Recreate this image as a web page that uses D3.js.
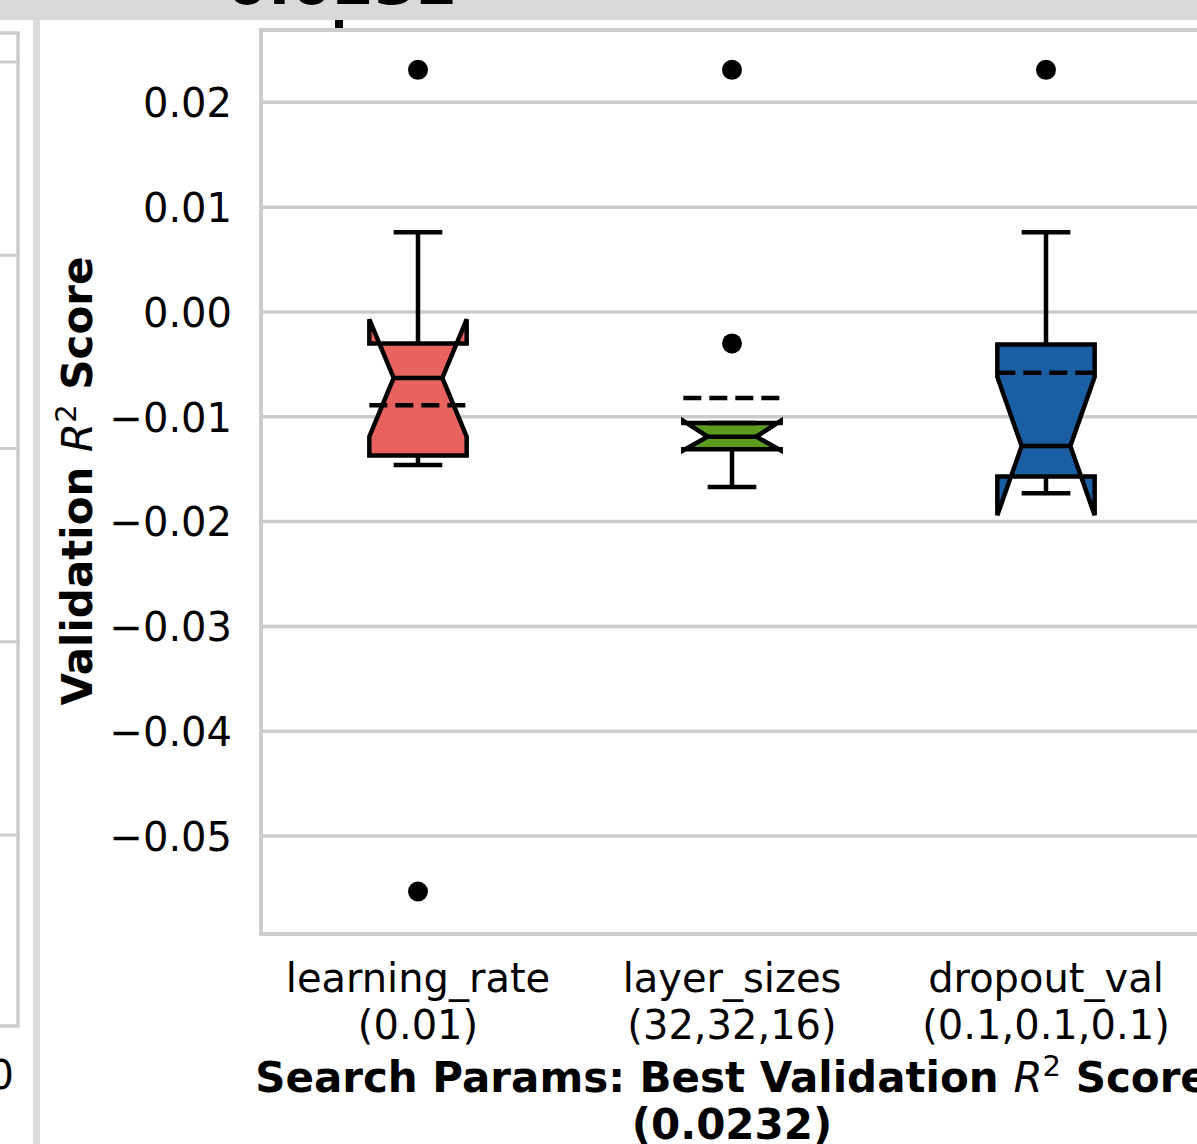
<!DOCTYPE html>
<html><head><meta charset="utf-8">
<script src="https://cdn.jsdelivr.net/npm/d3@7"></script>
<style>body{margin:0;background:#fff}svg{display:block;font-family:"DejaVu Sans",sans-serif}</style>
</head><body><svg id="c" width="1197" height="1144"></svg>
<script>
// ---- data ----
const categories = ["learning_rate", "layer_sizes", "dropout_val"];
const categorySub = ["(0.01)", "(32,32,16)", "(0.1,0.1,0.1)"];
const q1 = [-0.0137, -0.0131, -0.0157];
const median = [-0.0063, -0.0119, -0.0128];
const q3 = [-0.0030, -0.0106, -0.0031];
const whiskerLow = [-0.0146, -0.0167, -0.0173];
const whiskerHigh = [0.0076, -0.0106, 0.0076];
const mean = [-0.0089, -0.0082, -0.0058];
const notchLow = [-0.0119, -0.0132, -0.0194];
const notchHigh = [-0.0007, -0.0104, -0.0062];
const fliers = [[0.0231, -0.0553], [0.0231, -0.0030], [0.0231]];
const boxColors = ["#e8625f", "#5b9a1c", "#1a5fa3"];
const yTicks = [0.02, 0.01, 0.00, -0.01, -0.02, -0.03, -0.04, -0.05];
const leftPanelTicks = [0, 1, 2, 3, 4];
const titleText = "0.0232";

// ---- layout ----
const W = 1197, H = 1144;
const plot = {left: 261, top: 30, right: 1203, bottom: 934};
const svg = d3.select("#c");

const x = d3.scaleBand().domain(categories).range([plot.left, plot.right]).padding(0);
const y = d3.scaleLinear().domain([-0.05935, 0.0269]).range([plot.bottom, plot.top]);
const boxW = x.bandwidth() * 0.31;
const SW = 4.5;

// left partial panel (cut off)
const yl = d3.scaleLinear().domain([0, 4]).range([62, 835]);
const lp = svg.append("g");
lp.selectAll("line.g").data(leftPanelTicks).join("line")
  .attr("x1", 0).attr("x2", 18).attr("y1", d => yl(d)).attr("y2", d => yl(d))
  .attr("stroke", "#cccccc").attr("stroke-width", 3);
lp.append("rect").attr("x", -20).attr("y", 33).attr("width", 38).attr("height", 993)
  .attr("fill", "none").attr("stroke", "#cccccc").attr("stroke-width", 3.5);
lp.append("text").attr("x", 14).attr("y", 1089).attr("text-anchor", "end")
  .attr("font-size", 40).text("0");
svg.append("rect").attr("x", 33).attr("y", 20).attr("width", 7).attr("height", H - 20).attr("fill", "#dcdcdc");

// gridlines
svg.append("g").selectAll("line").data(yTicks).join("line")
  .attr("x1", plot.left).attr("x2", W + 10)
  .attr("y1", d => y(d)).attr("y2", d => y(d))
  .attr("stroke", "#cccccc").attr("stroke-width", 3.5);

// frame
svg.append("rect").attr("x", plot.left).attr("y", plot.top)
  .attr("width", plot.right - plot.left + 20).attr("height", plot.bottom - plot.top)
  .attr("fill", "none").attr("stroke", "#cccccc").attr("stroke-width", 4);

// y axis
const yAxis = svg.append("g").attr("transform", `translate(${plot.left},0)`)
  .call(d3.axisLeft(y).tickValues(yTicks).tickSize(0).tickPadding(29).tickFormat(d3.format(".2f")));
yAxis.select(".domain").remove();
yAxis.selectAll("text").attr("font-size", 40).attr("font-family", "DejaVu Sans").attr("fill", "#000").attr("dy", "0.36em");

// x tick labels
const xl = svg.append("g");
categories.forEach((c, i) => {
  const cx = x(c) + x.bandwidth() / 2;
  xl.append("text").attr("x", cx).attr("y", 992).attr("text-anchor", "middle").attr("font-size", 40).text(c);
  xl.append("text").attr("x", cx).attr("y", 1039).attr("text-anchor", "middle").attr("font-size", 40).text(categorySub[i]);
});

// boxes
const boxes = svg.append("g");
categories.forEach((c, i) => {
  const cx = x(c) + x.bandwidth() / 2;
  const L = cx - boxW / 2, R = cx + boxW / 2;
  const nL = cx - boxW / 4, nR = cx + boxW / 4;
  const pts = [
    [L, q1[i]], [R, q1[i]], [R, notchLow[i]], [nR, median[i]], [R, notchHigh[i]], [R, q3[i]],
    [L, q3[i]], [L, notchHigh[i]], [nL, median[i]], [L, notchLow[i]], [L, q1[i]]
  ];
  const line = d3.line().x(d => d[0]).y(d => y(d[1]));
  boxes.append("path").attr("d", line(pts) + "Z").attr("fill", boxColors[i])
    .attr("stroke", "#000").attr("stroke-width", SW).attr("stroke-linejoin", "miter");
  // whiskers
  const wk = [[q3[i], whiskerHigh[i]], [q1[i], whiskerLow[i]]];
  wk.forEach(([a, b]) => {
    if (a !== b) boxes.append("line").attr("x1", cx).attr("x2", cx).attr("y1", y(a)).attr("y2", y(b))
      .attr("stroke", "#000").attr("stroke-width", SW);
    boxes.append("line").attr("x1", nL).attr("x2", nR).attr("y1", y(b)).attr("y2", y(b))
      .attr("stroke", "#000").attr("stroke-width", SW);
  });
  // median
  boxes.append("line").attr("x1", nL).attr("x2", nR).attr("y1", y(median[i])).attr("y2", y(median[i]))
    .attr("stroke", "#000").attr("stroke-width", SW);
  // mean (dashed)
  boxes.append("line").attr("x1", L).attr("x2", R).attr("y1", y(mean[i])).attr("y2", y(mean[i]))
    .attr("stroke", "#000").attr("stroke-width", SW).attr("stroke-dasharray", "18,8");
  // fliers
  boxes.selectAll(null).data(fliers[i]).join("circle")
    .attr("cx", cx).attr("cy", d => y(d)).attr("r", 10).attr("fill", "#000");
});

// y axis title
const yt = svg.append("text").attr("transform", "translate(92,481) rotate(-90)")
  .attr("text-anchor", "middle").attr("font-size", 42).attr("font-weight", "bold");
yt.append("tspan").text("Validation ");
yt.append("tspan").attr("font-style", "italic").attr("font-weight", "normal").text("R");
yt.append("tspan").attr("font-weight", "normal").attr("font-size", 29).attr("dy", -16).text("2");
yt.append("tspan").attr("dy", 16).text(" Score");

// x axis title
const cxm = (plot.left + plot.right) / 2;
const xt = svg.append("text").attr("x", cxm).attr("y", 1092).attr("text-anchor", "middle")
  .attr("font-size", 42).attr("font-weight", "bold");
xt.append("tspan").text("Search Params: Best Validation ");
xt.append("tspan").attr("font-style", "italic").attr("font-weight", "normal").text("R");
xt.append("tspan").attr("font-weight", "normal").attr("font-size", 29).attr("dy", -16).text("2");
xt.append("tspan").attr("dy", 16).text(" Score");
svg.append("text").attr("x", cxm).attr("y", 1139).attr("text-anchor", "middle")
  .attr("font-size", 42).attr("font-weight", "bold").text("(0.0232)");

// top band with cut-off title
svg.append("rect").attr("x", 0).attr("y", 0).attr("width", W).attr("height", 20).attr("fill", "#d9d9d9");
svg.append("text").attr("x", 342).attr("y", 4).attr("text-anchor", "middle")
  .attr("font-size", 60).attr("font-weight", "bold").text(titleText);
svg.append("rect").attr("x", 335).attr("y", 20).attr("width", 8).attr("height", 8).attr("fill", "#000");
</script></body></html>
